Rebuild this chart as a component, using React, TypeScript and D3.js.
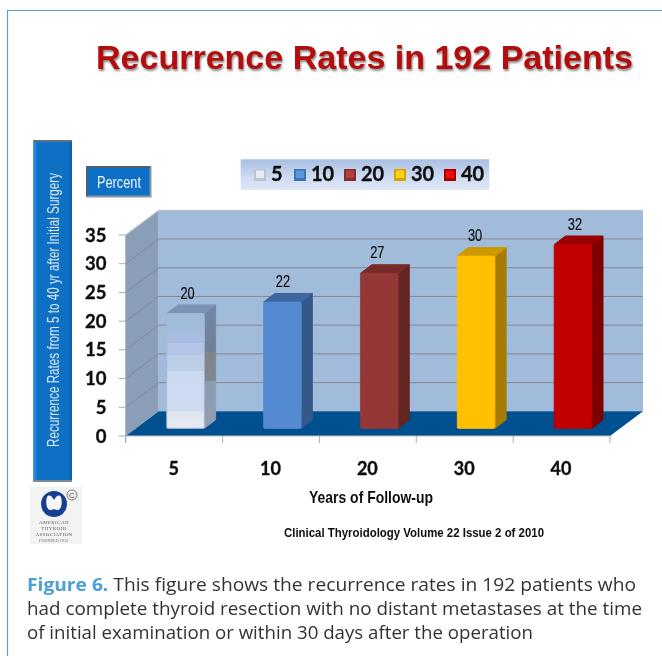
import React from "react";
import * as d3 from "d3";

const categories = ["5", "10", "20", "30", "40"];
const values = [20, 22, 27, 30, 32];
const yTicks = [0, 5, 10, 15, 20, 25, 30, 35];
const frontColors = ["url(#barLight)", "#538ad0", "#953735", "#ffc000", "#c00000"];
const sideColors = ["url(#sideLight)", "#36598a", "#632523", "#a67c00", "#7f0000"];
const topColors = ["#7b93b8", "#3c659e", "#772c2a", "#cc9900", "#990000"];
const swatchEdge = ["#b9c2cf", "#3f74b5", "#7f2f2d", "#d9a400", "#a80000"];
const swatchCore = ["#e6ebf2", "#5d97dc", "#b0403d", "#ffd21a", "#ee0808"];
const captionLines = [
  "had complete thyroid resection with no distant metastases at the time",
  "of initial examination or within 30 days after the operation",
];
const captionLengths = [615, 506];
const legendX = [254, 294, 344, 394, 444];
const labelNudge = [2, 0.5, -2, -1, 2];

const W = 662, H = 656;
const dx = 33, dy = 24.7;
const x = d3.scaleBand().domain(categories).range([125.7, 610]).paddingInner(0).paddingOuter(0);
const y = d3.scaleLinear().domain([0, 35]).range([436, 235]);
const barW = 37.6, barDx = 11.3, barDy = 8.6, barBase = 428.4;
const barLeft = (c: string) => (x(c) as number) + x.bandwidth() / 2 + 11.4 - barW / 2;
const barY = (v: number) => barBase - (y(0) - y(v));

const lbl = { fontFamily: "Lato, 'Open Sans', sans-serif", fontWeight: 700, fill: "#111", stroke: "#111", strokeWidth: 0.35 } as const;
const narrow = { fontFamily: "'Liberation Sans', Arial, sans-serif", fill: "#111" } as const;

function pts(...p: [number, number][]) { return p.map(a => a.join(",")).join(" "); }

export default function App() {
  const x0 = 125.7, x1 = 610;
  return (
    <svg width={W} height={H} viewBox={`0 0 ${W} ${H}`} style={{ position: "absolute", left: 0, top: 0, background: "#fff" }}>
      <defs>
        <linearGradient id="barLight" x1="0" y1="0" x2="0" y2="1">
          <stop offset="0" stopColor="#a1bbdb" />
          <stop offset="0.16" stopColor="#a1bbdb" />
          <stop offset="0.16" stopColor="#a8bce2" />
          <stop offset="0.26" stopColor="#a8bce2" />
          <stop offset="0.26" stopColor="#b3c4e6" />
          <stop offset="0.36" stopColor="#b3c4e6" />
          <stop offset="0.36" stopColor="#bccde8" />
          <stop offset="0.5" stopColor="#bccde8" />
          <stop offset="0.5" stopColor="#cbd9f0" />
          <stop offset="0.85" stopColor="#cfdbf1" />
          <stop offset="0.85" stopColor="#dfe5ef" />
          <stop offset="1" stopColor="#e6e9f0" />
        </linearGradient>
        <linearGradient id="sideLight" x1="0" y1="0" x2="0" y2="1">
          <stop offset="0" stopColor="#6f87a8" />
          <stop offset="0.38" stopColor="#6e8199" />
          <stop offset="0.38" stopColor="#7f8487" />
          <stop offset="0.62" stopColor="#80868f" />
          <stop offset="0.62" stopColor="#8b9aae" />
          <stop offset="1" stopColor="#929fb2" />
        </linearGradient>
        <linearGradient id="legendBg" x1="0" y1="0" x2="0" y2="1">
          <stop offset="0" stopColor="#a9bfe2" />
          <stop offset="0.6" stopColor="#cfdcf2" />
          <stop offset="1" stopColor="#dfe7f5" />
        </linearGradient>
        <linearGradient id="sideBox" x1="0" y1="0" x2="1" y2="0">
          <stop offset="0" stopColor="#4a98da" />
          <stop offset="0.12" stopColor="#0a70c6" />
          <stop offset="0.9" stopColor="#0b6fc2" />
          <stop offset="1" stopColor="#0a5ea6" />
        </linearGradient>
        <filter id="soft" x="-2%" y="-2%" width="104%" height="104%">
          <feGaussianBlur stdDeviation="0.45" />
        </filter>
      </defs>

      <g filter="url(#soft)">
        {/* frame */}
        <path d="M7.5,656 V10.5 H662" fill="none" stroke="#5f9dc6" strokeWidth={1.2} />

        {/* title */}
        <text x={96} y={68.5} fontFamily="'Liberation Sans', Arial, sans-serif" fontWeight={700} fontSize={34} fill="#b40b0b" textLength={537} lengthAdjust="spacingAndGlyphs" style={{ filter: "drop-shadow(1.5px 2px 1px #888)" }}>Recurrence Rates in 192 Patients</text>

        {/* left vertical box */}
        <rect x={33} y={140} width={39} height={342} fill="url(#sideBox)" />
        <path d="M33,142 L34,140 H72 V142 Z" fill="#5d6f80" />
        <path d="M33,481 H72" stroke="#7d8a96" strokeWidth={2} />
        <text transform="translate(59,447) rotate(-90)" fontFamily="'Liberation Sans', Arial, sans-serif" fontSize={16} fill="#dfeaf6" textLength={274} lengthAdjust="spacingAndGlyphs">Recurrence Rates from 5 to 40 yr after Initial Surgery</text>

        {/* percent box */}
        <rect x={87} y={167} width={63.5} height={29.5} fill="#0a70c6" stroke="#8b97a0" strokeWidth={2} />
        <path d="M87,196 V167 H150" fill="none" stroke="#4f5f6e" strokeWidth={2} />
        <text x={119} y={188} textAnchor="middle" fontFamily="'Liberation Sans', Arial, sans-serif" fontSize={17} fill="#f0f6fc" textLength={44} lengthAdjust="spacingAndGlyphs">Percent</text>

        {/* legend */}
        <rect x={240.7} y={159.3} width={248.5} height={30.7} fill="url(#legendBg)" />
        {categories.map((c, i) => (
          <g key={c}>
            <rect x={legendX[i]} y={169} width={12} height={12} fill={swatchEdge[i]} />
            <rect x={legendX[i] + 2} y={170.5} width={8} height={7.5} fill={swatchCore[i]} />
            <text x={legendX[i] + 17} y={181} {...lbl} fontSize={20}>{c}</text>
          </g>
        ))}

        {/* walls */}
        <polygon points={pts([x0, y(35)], [x0 + dx, y(35) - dy], [x0 + dx, y(0) - dy], [x0, y(0)])} fill="#8b9eb8" />
        <rect x={x0 + dx} y={y(35) - dy} width={x1 - x0} height={y(0) - y(35)} fill="#a1bbdb" />
        <path d={`M${x0},${y(35)} L${x0 + dx},${y(35) - dy} H${x1 + dx}`} fill="none" stroke="#bcc3cb" strokeWidth={1.2} />
        <path d={`M${x0},${y(35)} V${y(0) + 7}`} stroke="#a8aeb5" strokeWidth={1} />
        {yTicks.filter(t => t > 0 && t < 35).map(t => (
          <path key={t} d={`M${x0},${y(t)} L${x0 + dx},${y(t) - dy} H${x1 + dx}`} fill="none" stroke="#85898e" strokeWidth={1} />
        ))}
        {/* floor */}
        <polygon points={pts([x0, y(0)], [x0 + dx, y(0) - dy], [x1 + dx, y(0) - dy], [x1, y(0)])} fill="#00508f" />
        <path d={`M${x0},${y(0)} H${x1}`} stroke="#b9bec4" strokeWidth={1} />
        {/* ticks */}
        {yTicks.map(t => (
          <g key={t}>
            <path d={`M${x0 - 7},${y(t)} H${x0}`} stroke="#a8aeb5" strokeWidth={1} />
            <text x={106.5} y={y(t) + 6.5} textAnchor="end" {...lbl} fontSize={18.5}>{t}</text>
          </g>
        ))}
        {d3.range(6).map(i => {
          const tx = x0 + i * x.bandwidth();
          return <path key={i} d={`M${tx},${y(0)} V${y(0) + 7}`} stroke="#a8aeb5" strokeWidth={1} />;
        })}

        {/* bars */}
        {categories.map((c, i) => {
          const l = barLeft(c), r = l + barW, t = barY(values[i]);
          const lx = l + barW / 2 + labelNudge[i];
          return (
            <g key={c}>
              <polygon points={pts([r, t], [r + barDx, t - barDy], [r + barDx, barBase - barDy], [r, barBase])} fill={sideColors[i]} stroke={sideColors[i]} strokeWidth={0.8} strokeLinejoin="round" />
              <polygon points={pts([l, t], [l + barDx, t - barDy], [r + barDx, t - barDy], [r, t])} fill={topColors[i]} stroke={topColors[i]} strokeWidth={1} strokeLinejoin="round" />
              <rect x={l} y={t} width={barW} height={barBase - t} rx={1.5} fill={frontColors[i]} stroke={i === 0 ? "#aab8cc" : frontColors[i]} strokeWidth={0.8} />
              <text x={lx} y={t - 15} textAnchor="middle" {...narrow} fontSize={16} stroke="#111" strokeWidth={0.2} transform={`translate(${lx * 0.2},0) scale(0.8,1)`}>{values[i]}</text>
            </g>
          );
        })}

        {/* x labels */}
        {categories.map(c => (
          <text key={c} x={(x(c) as number) + x.bandwidth() / 2 - 0.5} y={475} textAnchor="middle" {...lbl} fontSize={18}>{c}</text>
        ))}
        <text x={309} y={503} {...narrow} fontWeight={700} fontSize={16.5} textLength={124} lengthAdjust="spacingAndGlyphs">Years of Follow-up</text>
        <text x={284} y={537} {...narrow} fontWeight={700} fontSize={12} textLength={260} lengthAdjust="spacingAndGlyphs">Clinical Thyroidology Volume 22 Issue 2 of 2010</text>

        {/* logo */}
        <rect x={30} y={487} width={52} height={57} fill="#f3f3f3" />
        <circle cx={54} cy={504} r={13} fill="#123f8f" />
        <path d="M47,497 C49,494 52,496 54,500 C56,496 59,494 61,497 C63,503 61,511 57,510 C55,509 53,509 51,510 C47,511 45,503 47,497 Z" fill="#f6f6f6" />
        <circle cx={72} cy={495} r={5} fill="none" stroke="#444" strokeWidth={0.7} />
        <text x={72} y={498} textAnchor="middle" fontFamily="'Liberation Sans', sans-serif" fontSize={8} fill="#444">C</text>
        <g fontFamily="'Liberation Serif', serif" fontSize={5} fill="#555" textAnchor="middle" letterSpacing={0.4}>
          <text x={54} y={524}>AMERICAN</text>
          <text x={54} y={530}>THYROID</text>
          <text x={54} y={536}>ASSOCIATION</text>
          <text x={54} y={542} fontSize={3.5}>FOUNDED 1923</text>
        </g>

        {/* caption */}
        <g fontFamily="'Open Sans', 'Noto Sans', sans-serif" fontSize={17.5} fill="#333">
          <text x={27} y={591} textLength={609} lengthAdjust="spacingAndGlyphs">
            <tspan fontWeight={700} fill="#4a9fd6">Figure 6.</tspan>
            <tspan> This figure shows the recurrence rates in 192 patients who</tspan>
          </text>
          {captionLines.map((l, i) => (
            <text key={i} x={27} y={615 + i * 23.5} textLength={captionLengths[i]} lengthAdjust="spacingAndGlyphs">{l}</text>
          ))}
        </g>
      </g>
    </svg>
  );
}
